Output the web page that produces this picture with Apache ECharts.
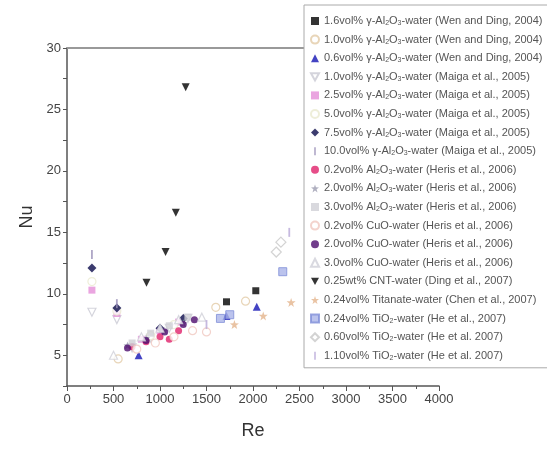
<!DOCTYPE html>
<html><head><meta charset="utf-8">
<script src="https://cdn.jsdelivr.net/npm/echarts@6/dist/echarts.min.js"></script>
<style>html,body{margin:0;padding:0;background:#fff}#c{width:547px;height:450px}</style>
</head><body><div id="c"></div>
<script>
// ---- data (Re, Nu) ----
const xTicks = [0, 500, 1000, 1500, 2000, 2500, 3000, 3500, 4000];
const yTicks = [5, 10, 15, 20, 25, 30];
const wen16 = [[1715, 9.35], [2030, 10.25]];
const wen10 = [[550, 4.7], [1600, 8.9], [1920, 9.4]];
const wen06 = [[770, 5.0], [1715, 8.2], [2040, 8.95]];
const maiga10 = [[268, 8.5], [536, 7.9], [700, 5.6], [900, 6.4], [1100, 7.2], [1300, 8.0]];
const maiga25 = [[268, 10.3], [536, 8.4], [800, 6.3], [1000, 7.0], [1200, 7.7]];
const maiga50 = [[268, 11.0], [536, 8.6], [900, 6.6], [1150, 7.5]];
const maiga75 = [[268, 12.1], [536, 8.85], [1000, 7.2], [1250, 8.0]];
const maiga100 = [[268, 13.2], [536, 9.2]];
const herisAl02 = [[700, 5.7], [850, 6.1], [1000, 6.5], [1100, 6.3], [1200, 7.0]];
const herisAl20 = [[650, 5.8], [850, 6.4], [1050, 7.0], [1250, 7.6]];
const herisAl30 = [[700, 6.0], [900, 6.8], [1100, 7.4], [1300, 8.1]];
const herisCu02 = [[750, 5.5], [950, 6.0], [1150, 6.5], [1350, 7.0], [1500, 6.9]];
const herisCu20 = [[650, 5.6], [850, 6.2], [1050, 6.9], [1250, 7.5], [1370, 7.9]];
const herisCu30 = [[500, 5.0], [800, 6.5], [1000, 7.2], [1200, 7.9], [1450, 8.1]];
const dingCNT = [[855, 10.9], [1060, 13.4], [1170, 16.6], [1276, 26.8]];
const chenTitanate = [[1800, 7.5], [2110, 8.2], [2410, 9.3]];
const heTi024 = [[1650, 8.0], [1750, 8.3], [2320, 11.8]];
const heTi060 = [[2250, 13.4], [2300, 14.2]];
const heTi110 = [[1500, 7.5], [2390, 15.0]];

const downTri = 'path://M0,0 L10,0 L5,9 Z';
const star = 'path://M5,0 L6.2,3.6 L10,3.8 L7,6.1 L8.1,10 L5,7.7 L1.9,10 L3,6.1 L0,3.8 L3.8,3.6 Z';
const vbar = 'path://M0,0 M10,10 M4,0 L6,0 L6,10 L4,10 Z';

function S(name, data, symbol, size, color, hollow, border) {
  return {
    name, type: 'scatter', data, symbol, symbolSize: size,
    itemStyle: hollow ? { color: '#fff', borderColor: border || color, borderWidth: 1.2 } : { color, borderColor: border || color, borderWidth: border ? 1 : 0 },
    emphasis: { disabled: true }
  };
}
const series = [
  S('1.6vol% γ-Al2O3-water (Wen and Ding, 2004)', wen16, 'rect', 7, '#000'),
  S('1.0vol% γ-Al2O3-water (Wen and Ding, 2004)', wen10, 'circle', 8, '#e2cba6', true),
  S('0.6vol% γ-Al2O3-water (Wen and Ding, 2004)', wen06, 'triangle', 8, '#1414b4'),
  S('1.0vol% γ-Al2O3-water (Maiga et al., 2005)', maiga10, downTri, 8, '#c9c9d3', true),
  S('2.5vol% γ-Al2O3-water (Maiga et al., 2005)', maiga25, 'rect', 7, '#e58fd8'),
  S('5.0vol% γ-Al2O3-water (Maiga et al., 2005)', maiga50, 'circle', 8, '#eaead0', true),
  S('7.5vol% γ-Al2O3-water (Maiga et al., 2005)', maiga75, 'diamond', 9, '#0a0a4a'),
  S('10.0vol% γ-Al2O3-water (Maiga et al., 2005)', maiga100, vbar, 9, '#9a90b8'),
  S('0.2vol% Al2O3-water (Heris et al., 2006)', herisAl02, 'circle', 7, '#e0206a'),
  S('2.0vol% Al2O3-water (Heris et al., 2006)', herisAl20, star, 8, '#9c9cb0'),
  S('3.0vol% Al2O3-water (Heris et al., 2006)', herisAl30, 'rect', 7, '#cfcfd6'),
  S('0.2vol% CuO-water (Heris et al., 2006)', herisCu02, 'circle', 8, '#f0c8c0', true),
  S('2.0vol% CuO-water (Heris et al., 2006)', herisCu20, 'circle', 7, '#4e0c6e'),
  S('3.0vol% CuO-water (Heris et al., 2006)', herisCu30, 'triangle', 8, '#d0d0d8', true),
  S('0.25wt% CNT-water (Ding et al., 2007)', dingCNT, downTri, 8, '#000'),
  S('0.24vol% Titanate-water (Chen et al., 2007)', chenTitanate, star, 9, '#e3b48c'),
  S('0.24vol% TiO2-water (He et al., 2007)', heTi024, 'rect', 8, '#aab4e8', false, '#7f8fd8'),
  S('0.60vol% TiO2-water (He et al. 2007)', heTi060, 'diamond', 10, '#c8c8c8', true),
  S('1.10vol% TiO2-water (He et al. 2007)', heTi110, vbar, 9, '#b8a8d8')
];

const chart = echarts.init(document.getElementById('c'), null, { renderer: 'canvas' });
const axisColor = '#555';
chart.setOption({
  animation: false,
  textStyle: { fontFamily: 'Liberation Sans, Arial, sans-serif' },
  grid: { left: 67, right: 108, top: 48, bottom: 64 },
  xAxis: [{
    type: 'value', min: 0, max: 4000, interval: 500,
    name: 'Re', nameLocation: 'middle', nameGap: 36,
    nameTextStyle: { fontSize: 18, color: '#333' },
    axisLine: { show: true, lineStyle: { color: axisColor, width: 1.5 } },
    axisTick: { show: true, length: 5, lineStyle: { color: axisColor } },
    minorTick: { show: true, splitNumber: 2, length: 3, lineStyle: { color: axisColor } },
    axisLabel: { fontSize: 13, color: '#444', margin: 7, formatter: v => xTicks.includes(v) ? String(v) : '' },
    splitLine: { show: false }
  }, {
    type: 'value', position: 'top', min: 0, max: 4000,
    axisLine: { show: true, lineStyle: { color: '#999', width: 2 } },
    axisTick: { show: false }, axisLabel: { show: false }, splitLine: { show: false }
  }],
  yAxis: [{
    type: 'value', min: 2.5, max: 30, interval: 2.5,
    name: 'Nu', nameLocation: 'middle', nameGap: 29, nameRotate: 90,
    nameTextStyle: { fontSize: 18, color: '#333' },
    axisLine: { show: true, lineStyle: { color: axisColor, width: 1.5 } },
    axisTick: { show: true, length: 4, lineStyle: { color: axisColor } },
    axisLabel: { fontSize: 13, color: '#444', margin: 6, formatter: v => yTicks.includes(v) ? String(v) : '' },
    splitLine: { show: false }
  }],
  legend: {
    orient: 'vertical', left: 304, top: 5,
    padding: [10, 12, 6, 6],
    itemWidth: 8, itemHeight: 8, itemGap: 6.6,
    backgroundColor: '#fff', borderColor: '#aaa', borderWidth: 1,
    textStyle: {
      fontSize: 11, color: '#555', lineHeight: 12,
      rich: { sub: { fontSize: 7, color: '#555', padding: [4, 0, 0, 0], lineHeight: 12 } }
    },
    formatter: n => n.replace('Al2O3', 'Al{sub|2}O{sub|3}').replace('TiO2', 'TiO{sub|2}'),
    data: series.map(s => s.name)
  },
  series
});
</script></body></html>
